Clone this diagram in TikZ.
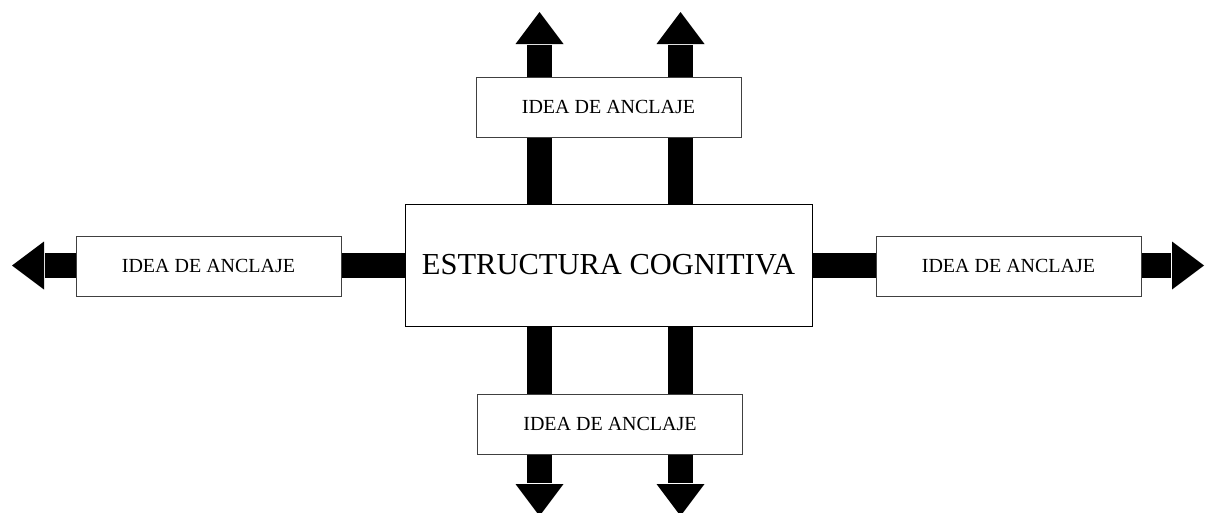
\documentclass[tikz,border=0pt]{standalone}
\usepackage{fontspec}
\setmainfont{Liberation Serif}
\usetikzlibrary{calc,backgrounds}
\tikzset{
  box/.style={draw=black!75, line width=1pt, fill=white, rectangle, inner sep=0pt,
    minimum width=265pt, minimum height=60pt, font=\fontsize{20}{24}\selectfont},
  mainbox/.style={draw=black, line width=1pt, fill=white, rectangle, inner sep=0pt,
    minimum width=407pt, minimum height=122pt, font=\fontsize{30.5}{36}\selectfont},
  shaft/.style={line width=25pt, black, line cap=butt},
  headfill/.style={fill=black}
}
\begin{document}
\begin{tikzpicture}[x=1pt,y=-1pt]
\useasboundingbox (0,0) rectangle (1205,512);
\node[mainbox] (c) at (608.5,265) {ESTRUCTURA COGNITIVA};
\node[box] (t) at (608.5,107) {IDEA DE ANCLAJE};
\node[box] (b) at (610,424) {IDEA DE ANCLAJE};
\node[box] (l) at (208.5,266) {IDEA DE ANCLAJE};
\node[box] (r) at (1008.5,266) {IDEA DE ANCLAJE};
% arrow tips and head bases
\coordinate (t1tip) at (539.5,12);  \coordinate (t1base) at (539.5,44);
\coordinate (t2tip) at (680.5,12);  \coordinate (t2base) at (680.5,44);
\coordinate (b1tip) at (539.5,516); \coordinate (b1base) at (539.5,484);
\coordinate (b2tip) at (680.5,516); \coordinate (b2base) at (680.5,484);
\coordinate (ltip) at (12,265.5);   \coordinate (lbase) at (44,265.5);
\coordinate (rtip) at (1204,265.5); \coordinate (rbase) at (1172,265.5);
\begin{pgfonlayer}{background}
  % shafts
  \draw[shaft] (c.north -| t1base) -- ($(t1base)+(0,1)$);
  \draw[shaft] (c.north -| t2base) -- ($(t2base)+(0,1)$);
  \draw[shaft] (c.south -| b1base) -- ($(b1base)+(0,-1)$);
  \draw[shaft] (c.south -| b2base) -- ($(b2base)+(0,-1)$);
  \draw[shaft] (c.west |- lbase) -- ($(lbase)+(1,0)$);
  \draw[shaft] (c.east |- rbase) -- ($(rbase)+(-1,0)$);
  % heads
  \fill[headfill] (t1tip) -- ($(t1base)+(-24,0)$) -- ($(t1base)+(24,0)$) -- cycle;
  \fill[headfill] (t2tip) -- ($(t2base)+(-24,0)$) -- ($(t2base)+(24,0)$) -- cycle;
  \fill[headfill] (b1tip) -- ($(b1base)+(-24,0)$) -- ($(b1base)+(24,0)$) -- cycle;
  \fill[headfill] (b2tip) -- ($(b2base)+(-24,0)$) -- ($(b2base)+(24,0)$) -- cycle;
  \fill[headfill] (ltip) -- ($(lbase)+(0,-24)$) -- ($(lbase)+(0,24)$) -- cycle;
  \fill[headfill] (rtip) -- ($(rbase)+(0,-24)$) -- ($(rbase)+(0,24)$) -- cycle;
\end{pgfonlayer}
\end{tikzpicture}
\end{document}
